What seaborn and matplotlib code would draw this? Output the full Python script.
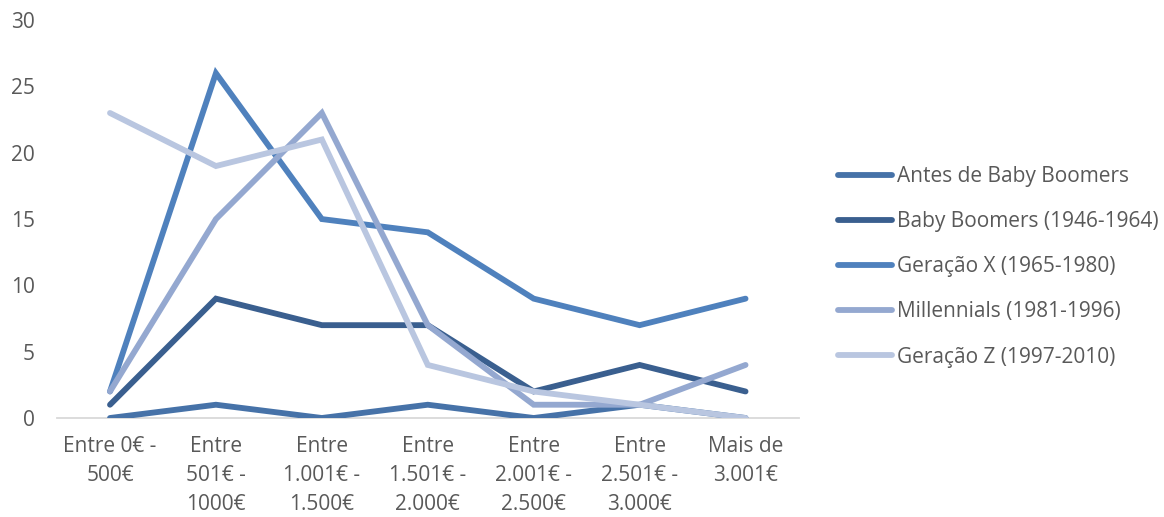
import matplotlib
matplotlib.use("Agg")
import matplotlib.pyplot as plt
import seaborn as sns
import pandas as pd

categories = [
    "Entre 0€ -\n500€",
    "Entre\n501€ -\n1000€",
    "Entre\n1.001€ -\n1.500€",
    "Entre\n1.501€ -\n2.000€",
    "Entre\n2.001€ -\n2.500€",
    "Entre\n2.501€ -\n3.000€",
    "Mais de\n3.001€",
]
series_names = [
    "Antes de Baby Boomers",
    "Baby Boomers (1946-1964)",
    "Geração X (1965-1980)",
    "Millennials (1981-1996)",
    "Geração Z (1997-2010)",
]
antes = [0, 1, 0, 1, 0, 1, 0]
boomers = [1, 9, 7, 7, 2, 4, 2]
gen_x = [2, 26, 15, 14, 9, 7, 9]
millennials = [2, 15, 23, 7, 1, 1, 4]
gen_z = [23, 19, 21, 4, 2, 1, 0]
colors = ["#4672A8", "#3A5F8F", "#4F81BD", "#94A8D0", "#B9C6E0"]

rows = []
for name, vals in zip(series_names, [antes, boomers, gen_x, millennials, gen_z]):
    for i, v in enumerate(vals):
        rows.append({"pos": i, "valor": v, "geracao": name})
df = pd.DataFrame(rows)

sns.set_theme(style="white")
plt.rcParams["font.family"] = ["Open Sans", "DejaVu Sans"]
text_color = "#595959"

fig = plt.figure(figsize=(11.64, 5.17), dpi=100)
ax = fig.add_axes([0.049, 0.1915, 0.637, 0.7695])

sns.lineplot(data=df, x="pos", y="valor", hue="geracao", hue_order=series_names,
             palette=colors, linewidth=4.2, ax=ax, legend=False,
             solid_capstyle="round", solid_joinstyle="miter")

ax.set_xlim(-0.5, len(categories) - 0.5)
ax.set_ylim(0, 30)
ax.set_xticks(range(len(categories)))
ax.set_xticklabels(categories, fontsize=15, color=text_color, linespacing=1.5)
ax.set_yticks(range(0, 31, 5))
ax.tick_params(axis="y", labelsize=15, colors=text_color, length=0, pad=16)
ax.tick_params(axis="x", length=0, pad=13)
ax.set_xlabel("")
ax.set_ylabel("")
for s in ["top", "right", "left"]:
    ax.spines[s].set_visible(False)
ax.spines["bottom"].set_color("#D9D9D9")
ax.spines["bottom"].set_linewidth(1.3)
ax.spines["bottom"].set_zorder(0)

handles = [plt.Line2D([0], [0], color=c, lw=4.2, solid_capstyle="round") for c in colors]
leg = fig.legend(handles, series_names, loc="center left", bbox_to_anchor=(0.704, 0.484),
                 frameon=False, fontsize=15, handlelength=2.6, handletextpad=0.2,
                 labelspacing=1.16, labelcolor=text_color)

fig.savefig("out.png", dpi=100)
